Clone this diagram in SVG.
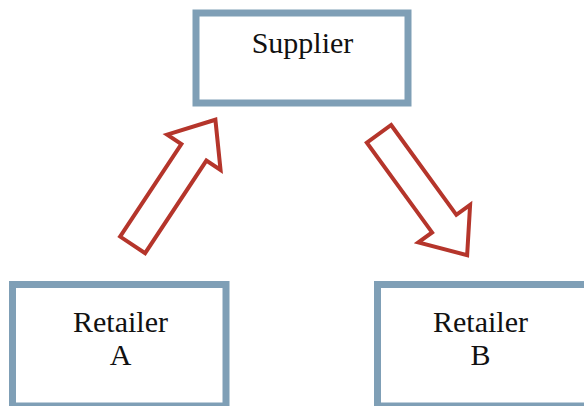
<svg xmlns="http://www.w3.org/2000/svg" width="584" height="406" viewBox="0 0 584 406">
<style>
.box{fill:#ffffff;stroke:#7F9FB6;stroke-width:7}
.lbl{font-family:"Liberation Serif","Times New Roman",serif;font-size:30px;fill:#111111;text-anchor:middle}
.arr{fill:#ffffff;stroke:#B5352B;stroke-width:4;stroke-linejoin:miter;stroke-miterlimit:10}
</style>
<defs>
<polygon id="blockArrow" points="2,-15 113,-15 113,-32 152,0 113,32 113,15 2,15"/>
</defs>
<rect width="584" height="406" fill="#ffffff"/>
<g id="connectors">
<use href="#blockArrow" class="arr" transform="translate(131.5,246.5) rotate(-56.5)"/>
<use href="#blockArrow" class="arr" transform="translate(377.8,132.2) rotate(54)"/>
</g>
<g id="supplier">
<rect class="box" x="196" y="13" width="212" height="90"/>
<text class="lbl" x="302.5" y="53">Supplier</text>
</g>
<g id="retailerA">
<rect class="box" x="12.5" y="284.5" width="213.5" height="121.5"/>
<text class="lbl" x="120.5" y="331.5">Retailer</text>
<text class="lbl" x="120.5" y="365">A</text>
</g>
<g id="retailerB">
<rect class="box" x="377.5" y="284.5" width="220" height="121.5"/>
<text class="lbl" x="480.5" y="331.5">Retailer</text>
<text class="lbl" x="480.5" y="365">B</text>
</g>
</svg>
